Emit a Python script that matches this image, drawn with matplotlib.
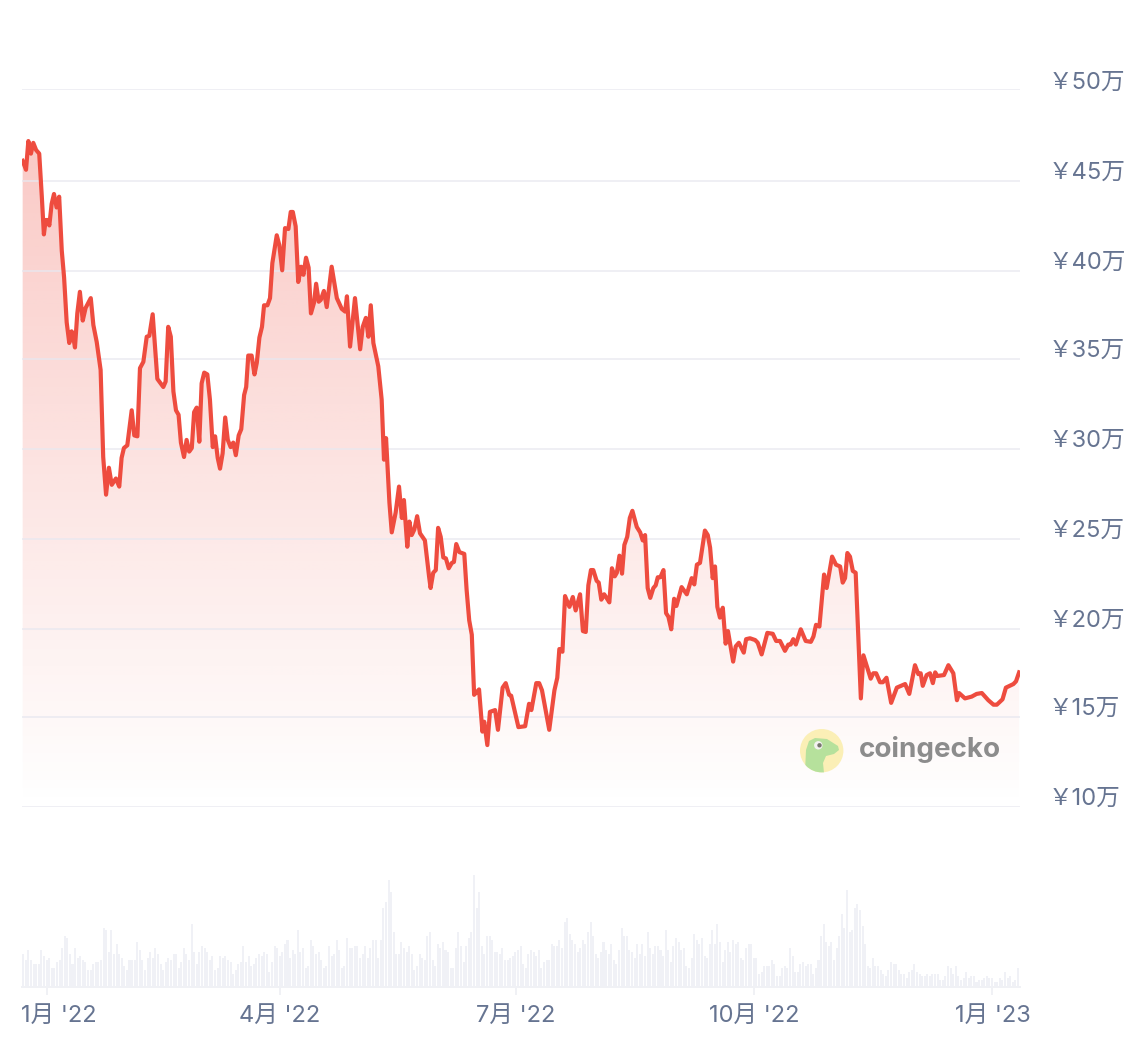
import matplotlib
matplotlib.use('Agg')
import matplotlib.pyplot as plt
import numpy as np
from matplotlib.patches import Circle, Polygon
from matplotlib.transforms import ScaledTranslation

plt.rcParams['font.family'] = ['Inter', 'Noto Sans CJK JP', 'DejaVu Sans']

# days since 2022-01-01 and price in units of 10,000 yen
priceDays = [
  -9.4, -8.1, -7.2, -6.2, -5.3, -4.2, -3.0, -2.0, -1.2, -0.5, 0.3, 0.9, 1.8, 2.7, 3.7, 4.7, 5.7, 6.6, 7.6, 8.6,
  9.5, 9.9, 10.8, 11.7, 12.7, 13.8, 14.9, 16.9, 17.9, 19.2, 20.7, 21.7, 22.8, 23.9, 25.0, 26.6, 27.9, 28.8, 29.7, 31.0,
  32.7, 33.7, 34.9, 35.9, 37.2, 38.5, 39.5, 40.8, 42.6, 44.9, 45.8, 46.8, 47.8, 48.8, 49.8, 50.8, 51.7, 52.9, 53.9, 54.9,
  55.9, 56.8, 57.8, 58.8, 59.7, 60.7, 61.9, 62.9, 64.0, 64.9, 65.9, 66.8, 67.8, 68.8, 69.8, 70.9, 71.9, 72.9, 74.0, 75.0,
  76.1, 76.9, 77.7, 79.0, 80.1, 81.0, 82.0, 83.0, 83.8, 85.1, 86.1, 87.0, 88.7, 89.7, 90.8, 91.9, 93.2, 94.1, 94.9, 96.0,
  97.0, 98.1, 99.0, 100.0, 101.0, 101.9, 103.1, 103.9, 104.9, 105.7, 106.9, 108.0, 109.9, 111.9, 113.8, 115.1, 115.8, 117.0, 118.9, 120.9,
  121.9, 123.1, 124.1, 125.0, 126.0, 127.9, 129.2, 130.1, 130.9, 132.2, 133.1, 134.6, 135.9, 137.0, 137.8, 139.1, 139.9, 140.8, 141.8, 142.9,
  144.0, 145.9, 147.5, 148.1, 149.1, 150.1, 151.0, 152.0, 153.0, 154.0, 155.1, 156.3, 157.1, 158.0, 159.2, 161.1, 162.0, 163.0, 164.0, 164.9,
  165.9, 166.8, 168.1, 168.8, 170.0, 171.0, 173.0, 174.1, 175.9, 177.1, 178.4, 179.2, 182.0, 184.6, 186.1, 187.0, 188.9, 190.0, 191.1, 193.9,
  195.9, 197.0, 197.8, 199.0, 200.0, 201.7, 203.0, 204.1, 205.8, 206.9, 208.0, 209.0, 210.0, 210.9, 212.2, 213.0, 214.0, 215.1, 215.8, 217.1,
  218.1, 219.2, 220.0, 221.0, 222.0, 222.9, 224.0, 225.0, 226.0, 227.7, 229.0, 230.0, 230.9, 231.9, 232.9, 234.1, 235.0, 235.8, 236.8, 238.0,
  239.0, 239.9, 241.0, 242.1, 243.0, 245.0, 247.0, 248.9, 249.9, 250.9, 252.1, 254.0, 255.1, 256.0, 257.0, 257.9, 258.8, 259.8, 260.9, 262.0,
  262.9, 264.9, 265.9, 267.1, 269.0, 269.9, 271.4, 273.4, 274.4, 275.9, 278.1, 280.2, 281.5, 283.0, 284.9, 286.2, 287.1, 288.1, 289.1, 291.0,
  292.9, 294.9, 295.9, 296.9, 298.2, 300.0, 301.0, 303.1, 304.6, 306.2, 307.2, 308.1, 309.0, 310.0, 311.1, 312.2, 314.2, 315.2, 318.0, 319.0,
  320.1, 321.6, 322.7, 324.1, 325.9, 328.1, 331.3, 332.9, 335.1, 336.4, 337.3, 338.1, 339.6, 340.9, 342.0, 342.9, 343.7, 346.3, 348.0, 349.9,
  351.3, 352.1, 354.4, 357.0, 358.9, 360.9, 363.4, 365.4, 366.7, 368.9, 370.2, 373.1, 374.1, 375.3]
prices = [
  46.0, 45.5, 47.1, 46.4, 47.0, 46.6, 46.4, 44.0, 41.9, 42.7, 42.7, 42.4, 43.6, 44.15, 43.4, 44.0, 41.0, 39.5, 37.0, 35.85,
  36.5, 36.4, 35.6, 37.5, 38.7, 37.1, 37.8, 38.35, 36.85, 35.9, 34.35, 29.5, 27.4, 28.9, 27.95, 28.3, 27.85, 29.45, 30.0, 30.15,
  32.1, 30.7, 30.65, 34.45, 34.8, 36.2, 36.25, 37.45, 33.85, 33.4, 33.7, 36.75, 36.2, 33.15, 32.1, 31.85, 30.3, 29.5, 30.45, 29.8,
  30.0, 32.0, 32.25, 30.35, 33.6, 34.2, 34.1, 32.7, 30.05, 30.65, 29.45, 28.85, 29.7, 31.7, 30.45, 30.05, 30.3, 29.6, 30.7, 31.05,
  32.95, 33.4, 35.15, 35.15, 34.1, 34.75, 36.15, 36.75, 37.95, 37.95, 38.35, 40.3, 41.85, 41.3, 39.9, 42.25, 42.2, 43.15, 43.15, 42.35,
  39.25, 40.1, 39.65, 40.6, 40.05, 37.5, 38.1, 39.15, 38.15, 38.25, 38.75, 37.85, 40.1, 38.35, 37.75, 37.6, 38.45, 35.65, 38.35, 35.5,
  36.75, 37.25, 36.2, 37.95, 35.85, 34.55, 32.7, 29.35, 30.55, 26.95, 25.3, 26.4, 27.85, 26.1, 27.1, 24.5, 25.9, 25.15, 25.45, 26.2,
  25.25, 24.85, 22.85, 22.2, 23.05, 23.2, 25.55, 25.05, 23.9, 23.85, 23.3, 23.6, 23.65, 24.65, 24.2, 24.1, 22.1, 20.4, 19.6, 16.25,
  16.4, 16.55, 14.2, 14.75, 13.45, 15.3, 15.4, 14.3, 16.65, 16.9, 16.25, 16.2, 14.45, 14.5, 15.75, 15.4, 16.9, 16.9, 16.5, 14.3,
  16.5, 17.2, 18.8, 18.65, 21.75, 21.15, 21.7, 20.95, 21.85, 19.8, 19.75, 22.35, 23.2, 23.2, 22.6, 22.5, 21.55, 21.85, 21.7, 21.4,
  23.3, 22.85, 23.05, 24.0, 23.0, 24.6, 25.05, 26.1, 26.5, 25.6, 25.3, 24.85, 25.15, 22.2, 21.65, 22.2, 22.35, 22.8, 22.8, 23.2,
  20.8, 20.6, 19.9, 21.6, 21.2, 22.25, 21.85, 22.75, 22.4, 23.5, 23.6, 25.4, 25.15, 24.45, 22.75, 23.4, 21.15, 20.55, 21.1, 19.1,
  19.8, 18.1, 18.95, 19.15, 18.6, 19.35, 19.4, 19.3, 19.15, 18.5, 19.7, 19.65, 19.25, 19.25, 18.7, 19.05, 19.05, 19.35, 19.05, 19.9,
  19.25, 19.2, 19.5, 20.15, 20.05, 22.95, 22.2, 23.95, 23.5, 23.4, 22.5, 22.75, 24.15, 23.95, 23.15, 23.05, 16.05, 18.45, 17.15, 17.45,
  17.45, 16.95, 16.95, 17.2, 15.8, 16.65, 16.85, 16.3, 17.9, 17.4, 17.45, 16.75, 17.35, 17.45, 16.9, 17.5, 17.3, 17.35, 17.9, 17.45,
  15.95, 16.35, 16.05, 16.15, 16.3, 16.35, 15.95, 15.7, 15.7, 16.0, 16.65, 16.85, 17.0, 17.5]

# daily volume, arbitrary units
volume = [
  33, 27, 37, 27, 23, 23, 23, 37, 31, 27, 29, 19, 19, 25, 27, 39, 51, 49, 33, 23, 39, 29, 31, 27, 25, 17, 17, 23, 25, 25,
  27, 59, 57, 35, 57, 33, 43, 33, 29, 21, 17, 27, 27, 27, 45, 37, 27, 17, 29, 35, 29, 39, 33, 23, 17, 25, 29, 27, 33, 33,
  19, 25, 39, 33, 27, 63, 35, 23, 35, 41, 39, 35, 27, 31, 17, 19, 31, 29, 31, 27, 25, 13, 17, 23, 25, 41, 25, 31, 21, 23,
  29, 33, 31, 35, 33, 15, 25, 41, 39, 31, 35, 43, 47, 29, 37, 33, 57, 35, 39, 19, 21, 47, 41, 33, 35, 27, 19, 21, 41, 31,
  33, 47, 37, 19, 21, 49, 39, 39, 41, 41,
  29, 33, 41, 29, 39, 47, 47, 29, 47, 79, 85, 107, 95, 55, 33, 33, 45, 39, 35, 41, 33, 17, 21, 33, 29, 27, 51, 55, 27, 21,
  43, 39, 45, 37, 35, 19, 19, 39, 55, 41, 25, 41, 49, 55, 113, 79, 95, 41, 33, 51, 51, 47, 35, 35, 33, 39, 27, 27, 29, 31,
  35, 37, 41, 23, 19, 33, 37, 35, 31, 37, 19, 25, 27, 27, 43, 41, 41, 47, 39, 65, 69, 53, 47, 43, 35, 39, 47, 43, 55, 65,
  51, 33, 29, 35, 45, 37, 33, 43, 27, 23, 37, 59, 51, 51, 37, 35, 29, 43, 33, 43, 31, 55, 39, 33, 41, 41, 37, 31, 57, 37,
  25, 41, 49, 45, 37, 39, 21, 19,
  29, 53, 47, 43, 49, 31, 29, 43, 57, 43, 63, 45, 25, 37, 45, 35, 47, 43, 45, 29, 27, 39, 43, 43, 29, 29, 13, 15, 21, 21,
  21, 27, 23, 11, 11, 19, 21, 19, 39, 31, 15, 15, 23, 25, 21, 23, 23, 13, 19, 27, 51, 63, 45, 41, 45, 27, 39, 51, 73, 59,
  97, 55, 57, 79, 83, 77, 61, 43, 21, 19, 29, 21, 21, 17, 13, 11, 17, 25, 23, 23, 17, 13, 13, 9, 15, 17, 23, 15, 13, 11,
  11, 13, 11, 13, 13, 13, 7, 7, 11, 21, 19, 13, 21, 11, 7, 9, 15, 9, 11, 11, 5, 7, 7, 9, 11, 9, 9, 5, 5, 9, 7, 15, 9, 11,
  5, 7, 19]

# the gridlines in the picture do not sit exactly on round values
priceTicks = [10, 15.01, 19.92, 24.93, 29.94, 34.96, 39.86, 44.87, 50]
priceLabels = ['￥10万', '￥15万', '￥20万', '￥25万', '￥30万', '￥35万', '￥40万', '￥45万', '￥50万']
dateTicks = [0, 90, 181, 273, 365]
dateLabels = ["1月 '22", "4月 '22", "7月 '22", "10月 '22", "1月 '23"]

W, H = 1134, 1050
DPI = 100
RED = '#EE4C3F'
GREY_TEXT = '#667491'
xLeft, xRight = 22, 1019.5
xLim = (-9.65, 375.45)


def axesAt(x0, yTop, x1, yBottom):
  return fig.add_axes([x0 / W, 1 - yBottom / H, (x1 - x0) / W, (yBottom - yTop) / H])


fig = plt.figure(figsize=(W / DPI, H / DPI), dpi=DPI, facecolor='white')

# price chart
ax = axesAt(xLeft, 89, xRight, 807)
ax.set_xlim(*xLim)
ax.set_ylim(10, 50)
ax.patch.set_alpha(0)
for spine in ax.spines.values():
  spine.set_visible(False)
ax.set_xticks([])
ax.set_yticks(priceTicks)
ax.set_yticklabels([])
ax.tick_params(axis='y', length=0)
ax.grid(axis='y', color='#E8E8F0', alpha=0.7, linewidth=1.4, zorder=3)
ax.set_axisbelow(False)

# area fill fades out towards the bottom
gradient = np.zeros((256, 2, 4))
gradient[..., 0], gradient[..., 1], gradient[..., 2] = 238 / 255, 76 / 255, 63 / 255
gradient[..., 3] = np.linspace(0.3, 0, 256)[:, None]
gradientTop = 47.3
image = ax.imshow(gradient, extent=[xLim[0], xLim[1], 10, gradientTop], aspect='auto', origin='upper', zorder=1)
area = ax.fill_between(priceDays, prices, 10, color='none', linewidth=0)
image.set_clip_path(area.get_paths()[0], transform=ax.transData)
ax.set_xlim(*xLim)
ax.set_ylim(10, 50)

ax.plot(priceDays, prices, color=RED, linewidth=3.0, solid_joinstyle='round', zorder=4)

for tick, label in zip(priceTicks, priceLabels):
  # top label sits a little closer to its gridline
  offset = 4.2 if label == '￥50万' else 6.2
  ax.annotate(label, xy=(1, tick), xycoords=('axes fraction', 'data'), xytext=(21, offset), textcoords='offset points',
              fontsize=17, color=GREY_TEXT, ha='left', va='center', annotation_clip=False)

# volume bars
axVol = axesAt(xLeft, 875, xRight, 987)
axVol.set_xlim(*xLim)
axVol.set_ylim(0, 112)
volumeDays = np.arange(len(volume)) + xLim[0] + 0.5
axVol.bar(volumeDays, volume, width=0.78, color='#F0F1F6', linewidth=0)
for name in ['top', 'left', 'right']:
  axVol.spines[name].set_visible(False)
axVol.spines['bottom'].set_color('#F0F1F5')
axVol.spines['bottom'].set_linewidth(1.4)
axVol.set_yticks([])
axVol.set_xticks(dateTicks)
axVol.set_xticklabels(dateLabels, fontsize=17, color=GREY_TEXT)
axVol.tick_params(axis='x', length=5.5, width=1.4, color='#F0F1F5', pad=7.5)
# first label is pushed right so it stays inside the chart
firstLabel = axVol.get_xticklabels()[0]
firstLabel.set_transform(firstLabel.get_transform() + ScaledTranslation(12 / DPI, 0, fig.dpi_scale_trans))

# coingecko watermark
axLogo = fig.add_axes([0, 0, 1, 1])
axLogo.set_xlim(0, W)
axLogo.set_ylim(H, 0)
axLogo.axis('off')
disc = Circle((821.7, 750.7), 21.7, facecolor='#FBEFB6', edgecolor='none')
axLogo.add_patch(disc)
gecko = Polygon([(805, 772), (806, 750), (809, 741), (815, 738), (827, 739), (838, 746), (839, 750), (834, 754),
                 (826, 756), (823, 763), (824, 773)], closed=True, facecolor='#B6E19C', edgecolor='none')
axLogo.add_patch(gecko)
gecko.set_clip_path(disc)
axLogo.add_patch(Circle((818.3, 745.3), 4.2, facecolor='#F4F2F2', edgecolor='none'))
axLogo.add_patch(Circle((819.5, 745.3), 2.2, facecolor='#77776F', edgecolor='none'))
axLogo.text(858.5, 749.5, 'coingecko', fontsize=20, fontweight='bold', color='#8C8C8C', ha='left', va='center')

fig.savefig('out.png', dpi=DPI)
